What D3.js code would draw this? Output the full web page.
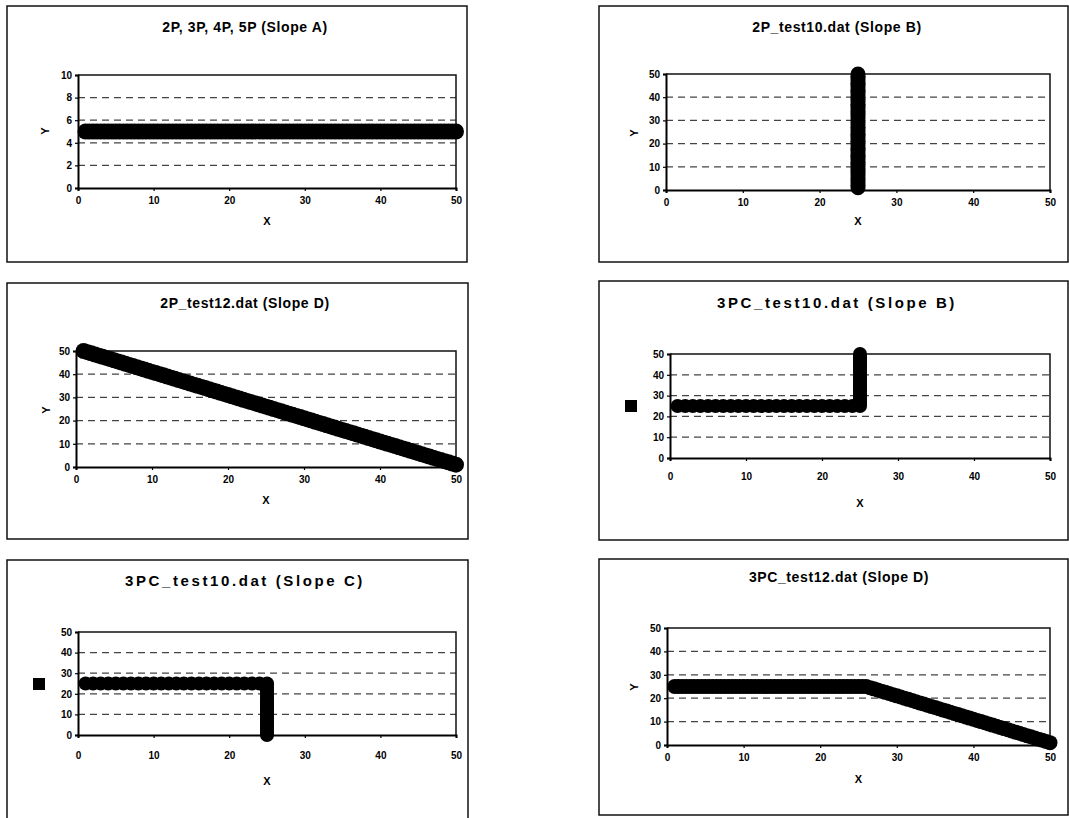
<!DOCTYPE html>
<html>
<head>
<meta charset="utf-8">
<script src="https://cdn.jsdelivr.net/npm/d3@7"></script>
<style>
	body { margin: 0; background: #fff; }
	svg { display: block; font-family: "Liberation Sans", Arial, sans-serif; font-weight: bold; }
</style>
</head>
<body>
<div id="chart"></div>
<script>
	// DATA
	const xTicks = [0, 10, 20, 30, 40, 50];
	const yTicksSmall = [0, 2, 4, 6, 8, 10];
	const yTicksLarge = [0, 10, 20, 30, 40, 50];

	const titles = [
		"2P, 3P, 4P, 5P (Slope A)",
		"2P_test10.dat (Slope B)",
		"2P_test12.dat (Slope D)",
		"3PC_test10.dat (Slope B)",
		"3PC_test10.dat (Slope C)",
		"3PC_test12.dat (Slope D)"
	];

	// x sampled every half unit (dense runs)
	const halfX = [1,1.5,2,2.5,3,3.5,4,4.5,5,5.5,6,6.5,7,7.5,8,8.5,9,9.5,10,10.5,
		11,11.5,12,12.5,13,13.5,14,14.5,15,15.5,16,16.5,17,17.5,18,18.5,19,19.5,20,20.5,
		21,21.5,22,22.5,23,23.5,24,24.5,25,25.5,26,26.5,27,27.5,28,28.5,29,29.5,30,30.5,
		31,31.5,32,32.5,33,33.5,34,34.5,35,35.5,36,36.5,37,37.5,38,38.5,39,39.5,40,40.5,
		41,41.5,42,42.5,43,43.5,44,44.5,45,45.5,46,46.5,47,47.5,48,48.5,49,49.5,50];

	const slopeAY = [5,5,5,5,5,5,5,5,5,5,5,5,5,5,5,5,5,5,5,5,
		5,5,5,5,5,5,5,5,5,5,5,5,5,5,5,5,5,5,5,5,
		5,5,5,5,5,5,5,5,5,5,5,5,5,5,5,5,5,5,5,5,
		5,5,5,5,5,5,5,5,5,5,5,5,5,5,5,5,5,5,5,5,
		5,5,5,5,5,5,5,5,5,5,5,5,5,5,5,5,5,5,5];

	const test10BX = [25,25,25,25,25,25,25,25,25,25,25,25,25,25,25,25,25,25,25,25,25,25,25,25,25,
		25,25,25,25,25,25,25,25,25,25,25,25,25,25,25,25,25,25,25,25,25,25,25,25,25];
	const test10BY = [1,2,3,4,5,6,7,8,9,10,11,12,13,14,15,16,17,18,19,20,21,22,23,24,25,
		26,27,28,29,30,31,32,33,34,35,36,37,38,39,40,41,42,43,44,45,46,47,48,49,50];

	const test12DY = [50,49.5,49,48.5,48,47.5,47,46.5,46,45.5,45,44.5,44,43.5,43,42.5,42,41.5,41,40.5,
		40,39.5,39,38.5,38,37.5,37,36.5,36,35.5,35,34.5,34,33.5,33,32.5,32,31.5,31,30.5,
		30,29.5,29,28.5,28,27.5,27,26.5,26,25.5,25,24.5,24,23.5,23,22.5,22,21.5,21,20.5,
		20,19.5,19,18.5,18,17.5,17,16.5,16,15.5,15,14.5,14,13.5,13,12.5,12,11.5,11,10.5,
		10,9.5,9,8.5,8,7.5,7,6.5,6,5.5,5,4.5,4,3.5,3,2.5,2,1.5,1];

	const pc10BX = [1,2,3,4,5,6,7,8,9,10,11,12,13,14,15,16,17,18,19,20,21,22,23,24,25,
		25,25,25,25,25,25,25,25,25,25,25,25,25,25,25,25,25,25,25,25,25,25,25,25,25];
	const pc10BY = [25,25,25,25,25,25,25,25,25,25,25,25,25,25,25,25,25,25,25,25,25,25,25,25,25,
		26,27,28,29,30,31,32,33,34,35,36,37,38,39,40,41,42,43,44,45,46,47,48,49,50];

	const pc10CX = [1,2,3,4,5,6,7,8,9,10,11,12,13,14,15,16,17,18,19,20,21,22,23,24,25,
		25,25,25,25,25,25,25,25,25,25,25,25,25,25,25,25,25,25,25,25,25,25,25,25,25];
	const pc10CY = [25,25,25,25,25,25,25,25,25,25,25,25,25,25,25,25,25,25,25,25,25,25,25,25,25,
		24,23,22,21,20,19,18,17,16,15,14,13,12,11,10,9,8,7,6,5,4,3,2,1,0];

	const pc12DY = [25,25,25,25,25,25,25,25,25,25,25,25,25,25,25,25,25,
		25,25,25,25,25,25,25,25,25,25,25,25,25,25,25,25,25,
		25,25,25,25,25,25,25,25,25,25,25,25,25,25,25,25,25,
		24.5,24,23.5,23,22.5,22,21.5,21,20.5,20,19.5,19,18.5,18,17.5,17,16.5,16,15.5,15,
		14.5,14,13.5,13,12.5,12,11.5,11,10.5,10,9.5,9,8.5,8,7.5,7,6.5,6,5.5,5,
		4.5,4,3.5,3,2.5,2,1.5,1];

	// LAYOUT (frame, plot area, label spots)
	const panels = [
		{ title: titles[0], xs: halfX, ys: slopeAY, yMax: 10, yTicks: yTicksSmall, r: 8,
			frame: [7, 6, 467, 262], plot: [78, 75, 456, 188], titleX: 245, titleY: 31.5,
			xLabelPad: 7, xTitleY: 225, yTitle: [45, 131], spaced: false, square: false },
		{ title: titles[1], xs: test10BX, ys: test10BY, yMax: 50, yTicks: yTicksLarge, r: 7.5,
			frame: [599, 6, 1068, 262], plot: [666, 74, 1050, 190], titleX: 837, titleY: 31.5,
			xLabelPad: 7, xTitleY: 225, yTitle: [634, 133], spaced: false, square: false },
		{ title: titles[2], xs: halfX, ys: test12DY, yMax: 50, yTicks: yTicksLarge, r: 8,
			frame: [7, 283, 468, 539], plot: [76, 351, 456, 467], titleX: 245, titleY: 308,
			xLabelPad: 7, xTitleY: 504, yTitle: [46, 410], spaced: false, square: false },
		{ title: titles[3], xs: pc10BX, ys: pc10BY, yMax: 50, yTicks: yTicksLarge, r: 7,
			frame: [599, 281, 1068, 540], plot: [670, 354, 1050, 458], titleX: 837, titleY: 307.5,
			xLabelPad: 13, xTitleY: 507, yTitle: [631, 406], spaced: true, square: true },
		{ title: titles[4], xs: pc10CX, ys: pc10CY, yMax: 50, yTicks: yTicksLarge, r: 7,
			frame: [7, 560, 468, 840], plot: [78, 632, 456, 735], titleX: 245, titleY: 585.5,
			xLabelPad: 15, xTitleY: 785, yTitle: [39, 684], spaced: true, square: true },
		{ title: titles[5], xs: halfX, ys: pc12DY, yMax: 50, yTicks: yTicksLarge, r: 7.5,
			frame: [599, 559, 1068, 815], plot: [667, 628, 1050, 745], titleX: 839, titleY: 582,
			xLabelPad: 7, xTitleY: 783, yTitle: [634, 687], spaced: false, square: false }
	];

	const width = 1069;
	const height = 818;
	const svg = d3.select("#chart").append("svg")
		.attr("width", width)
		.attr("height", height);

	panels.forEach(p => {
		const g = svg.append("g");
		const [fx0, fy0, fx1, fy1] = p.frame;
		const [px0, py0, px1, py1] = p.plot;

		// outer frame
		g.append("rect")
			.attr("x", fx0).attr("y", fy0)
			.attr("width", fx1 - fx0).attr("height", fy1 - fy0)
			.attr("fill", "none").attr("stroke", "#111").attr("stroke-width", 1.5);

		const xScale = d3.scaleLinear().domain([0, 50]).range([px0, px1]);
		const yScale = d3.scaleLinear().domain([0, p.yMax]).range([py1, py0]);

		// dashed gridlines
		g.append("g").selectAll("line")
			.data(p.yTicks.filter(t => t > 0 && t < p.yMax))
			.enter().append("line")
			.attr("x1", px0).attr("x2", px1)
			.attr("y1", d => yScale(d)).attr("y2", d => yScale(d))
			.attr("stroke", "#444").attr("stroke-width", 1.2)
			.attr("stroke-dasharray", "7,5");

		// plot border (top / right)
		g.append("path")
			.attr("d", `M${px0},${py0}H${px1}V${py1}`)
			.attr("fill", "none").attr("stroke", "#111").attr("stroke-width", 1.5);

		// axes
		const yAxisG = g.append("g")
			.attr("transform", `translate(${px0},0)`)
			.call(d3.axisLeft(yScale).tickValues(p.yTicks).tickSize(3).tickPadding(3));
		const xAxisG = g.append("g")
			.attr("transform", `translate(0,${py1})`)
			.call(d3.axisBottom(xScale).tickValues(xTicks).tickSize(3).tickPadding(p.xLabelPad - 1));
		[yAxisG, xAxisG].forEach(a => {
			a.attr("font-family", null).attr("font-size", 10);
			a.select(".domain").attr("stroke", "#000").attr("stroke-width", 2);
			a.selectAll(".tick line").attr("stroke", "#000").attr("stroke-width", 1.2);
			a.selectAll(".tick text").attr("fill", "#000");
		});

		// markers
		g.append("g").selectAll("circle")
			.data(p.xs.map((x, i) => ({ x: x, y: p.ys[i] })))
			.enter().append("circle")
			.attr("cx", d => xScale(d.x))
			.attr("cy", d => yScale(d.y))
			.attr("r", p.r)
			.attr("fill", "#000");

		// title
		g.append("text")
			.attr("x", p.titleX).attr("y", p.titleY)
			.attr("text-anchor", "middle")
			.attr("font-size", p.spaced ? 15 : 14)
			.attr("letter-spacing", p.spaced ? 2.6 : 0.6)
			.text(p.title);

		// axis titles
		g.append("text")
			.attr("x", (px0 + px1) / 2).attr("y", p.xTitleY)
			.attr("text-anchor", "middle")
			.attr("font-size", 11)
			.text("X");
		if (p.square) {
			g.append("rect")
				.attr("x", p.yTitle[0] - 6).attr("y", p.yTitle[1] - 6)
				.attr("width", 12).attr("height", 12)
				.attr("fill", "#000");
		} else {
			g.append("text")
				.attr("transform", `translate(${p.yTitle[0] + 4},${p.yTitle[1]}) rotate(-90)`)
				.attr("text-anchor", "middle")
				.attr("font-size", 11)
				.text("Y");
		}
	});
</script>
</body>
</html>
